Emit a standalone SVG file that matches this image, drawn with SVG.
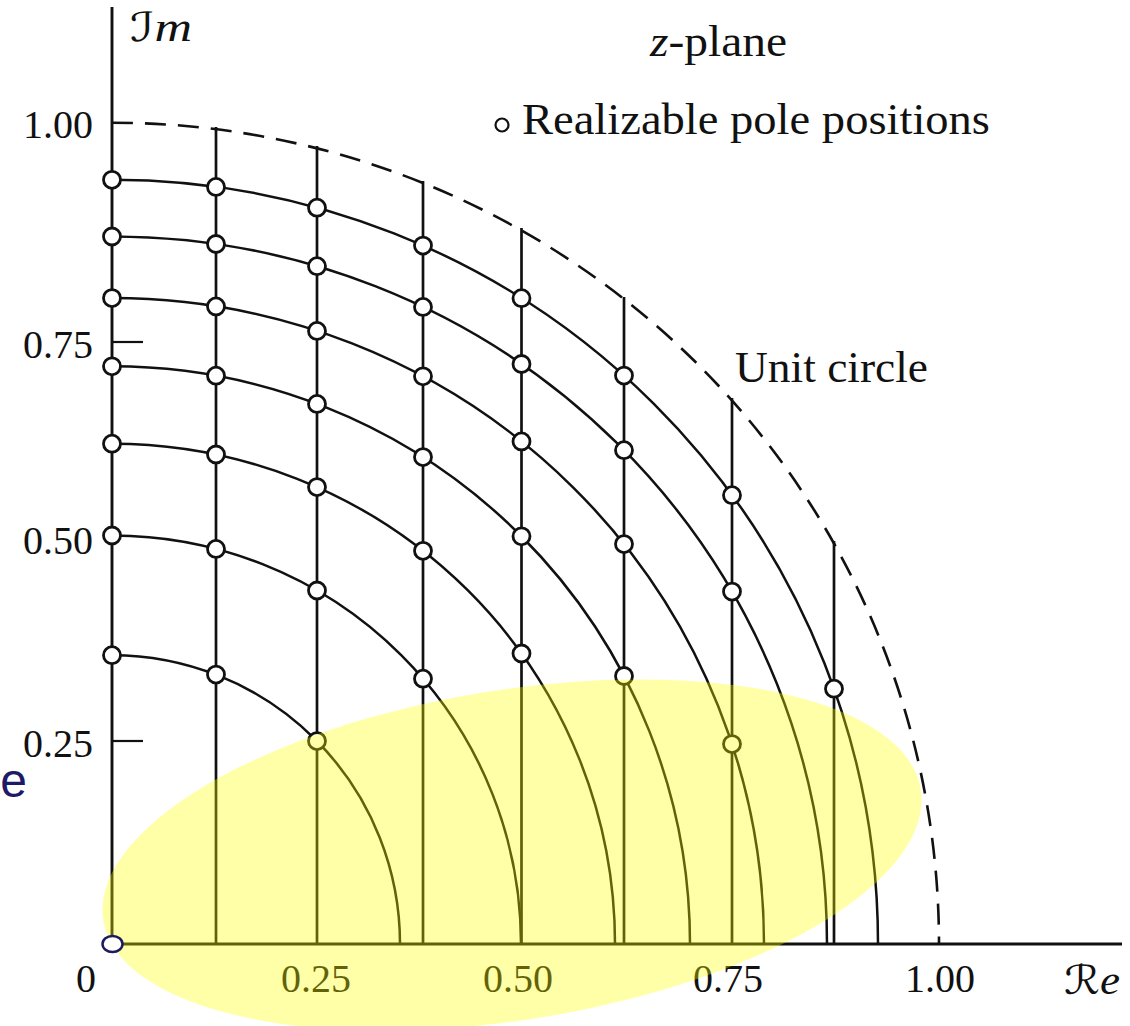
<svg xmlns="http://www.w3.org/2000/svg" width="1130" height="1026" viewBox="0 0 1130 1026">
<style>
  .ax{stroke:#111;stroke-width:2.9;fill:none}
  .vl{stroke:#111;stroke-width:2.7;fill:none}
  .arc{stroke:#111;stroke-width:2.5;fill:none}
  .uc{stroke:#111;stroke-width:2.6;fill:none;stroke-dasharray:21 12}
  .tick{stroke:#111;stroke-width:2.2;fill:none}
  .pole{fill:#fff;stroke:#111;stroke-width:2.8}
  .lbl{font-family:"Liberation Serif","Times New Roman",serif;font-size:40px;fill:#111}
  .cap{font-family:"Liberation Serif","Times New Roman",serif;font-size:45px;fill:#111}
  .scr{font-family:"DejaVu Serif","DejaVu Sans","Liberation Serif",serif;font-style:italic}
</style>
<rect width="1130" height="1026" fill="#fff"/>

<g id="axes">
  <line class="ax" x1="112" y1="7" x2="112" y2="944"/>
  <line class="ax" x1="112" y1="944" x2="1122" y2="944"/>
  <line class="tick" x1="112" y1="342" x2="143" y2="342"/>
  <line class="tick" x1="112" y1="741" x2="143" y2="741"/>
</g>

<g id="unit-circle">
  <path class="uc" d="M112 122.7 A827 821.3 0 0 1 939 944"/>
</g>

<g id="connectors">
  <g id="vertical-lines">
    <line class="vl" x1="216" y1="944" x2="216" y2="127"/>
    <line class="vl" x1="317" y1="944" x2="317" y2="146"/>
    <line class="vl" x1="423" y1="944" x2="423" y2="181"/>
    <line class="vl" x1="521.5" y1="944" x2="521.5" y2="228"/>
    <line class="vl" x1="624" y1="944" x2="624" y2="297"/>
    <line class="vl" x1="732" y1="944" x2="732" y2="398"/>
    <line class="vl" x1="834" y1="944" x2="834" y2="541"/>
  </g>
  <g id="radius-arcs">
    <path class="arc" d="M112 655.15 A288 288.85 0 0 1 400 944"/>
    <path class="arc" d="M112 535.5 A409 408.5 0 0 1 521 944"/>
    <path class="arc" d="M112 443.7 A503 500.3 0 0 1 615 944"/>
    <path class="arc" d="M112 366.3 A578 577.7 0 0 1 690 944"/>
    <path class="arc" d="M112 298.1 A652 645.9 0 0 1 764 944"/>
    <path class="arc" d="M112 236.5 A715 707.5 0 0 1 827 944"/>
    <path class="arc" d="M112 179.8 A766 764.2 0 0 1 878 944"/>
  </g>
</g>

<g id="poles">
  <circle class="pole" cx="112" cy="655.2" r="8.5"/>
  <circle class="pole" cx="112" cy="535.5" r="8.5"/>
  <circle class="pole" cx="112" cy="443.7" r="8.5"/>
  <circle class="pole" cx="112" cy="366.3" r="8.5"/>
  <circle class="pole" cx="112" cy="298.1" r="8.5"/>
  <circle class="pole" cx="112" cy="236.5" r="8.5"/>
  <circle class="pole" cx="112" cy="179.8" r="8.5"/>

  <circle class="pole" cx="216" cy="674.6" r="8.5"/>
  <circle class="pole" cx="216" cy="548.9" r="8.5"/>
  <circle class="pole" cx="216" cy="454.5" r="8.5"/>
  <circle class="pole" cx="216" cy="375.7" r="8.5"/>
  <circle class="pole" cx="216" cy="306.4" r="8.5"/>
  <circle class="pole" cx="216" cy="244.0" r="8.5"/>
  <circle class="pole" cx="216" cy="186.9" r="8.5"/>

  <circle class="pole" cx="317" cy="741.1" r="8.5"/>
  <circle class="pole" cx="317" cy="590.5" r="8.5"/>
  <circle class="pole" cx="317" cy="487.1" r="8.5"/>
  <circle class="pole" cx="317" cy="403.9" r="8.5"/>
  <circle class="pole" cx="317" cy="330.9" r="8.5"/>
  <circle class="pole" cx="317" cy="266.2" r="8.5"/>
  <circle class="pole" cx="317" cy="207.7" r="8.5"/>

  <circle class="pole" cx="423" cy="678.7" r="8.5"/>
  <circle class="pole" cx="423" cy="550.8" r="8.5"/>
  <circle class="pole" cx="423" cy="457.1" r="8.5"/>
  <circle class="pole" cx="423" cy="376.3" r="8.5"/>
  <circle class="pole" cx="423" cy="306.9" r="8.5"/>
  <circle class="pole" cx="423" cy="245.6" r="8.5"/>

  <circle class="pole" cx="521.5" cy="653.5" r="8.5"/>
  <circle class="pole" cx="521.5" cy="536.3" r="8.5"/>
  <circle class="pole" cx="521.5" cy="441.4" r="8.5"/>
  <circle class="pole" cx="521.5" cy="364.0" r="8.5"/>
  <circle class="pole" cx="521.5" cy="298.2" r="8.5"/>

  <circle class="pole" cx="624" cy="676.0" r="8.5"/>
  <circle class="pole" cx="624" cy="544.1" r="8.5"/>
  <circle class="pole" cx="624" cy="450.2" r="8.5"/>
  <circle class="pole" cx="624" cy="375.6" r="8.5"/>

  <circle class="pole" cx="732" cy="744.1" r="8.5"/>
  <circle class="pole" cx="732" cy="591.6" r="8.5"/>
  <circle class="pole" cx="732" cy="495.2" r="8.5"/>

  <circle class="pole" cx="834" cy="688.7" r="8.5"/>
</g>

<g id="labels">
  <text class="lbl" x="93" y="138" text-anchor="end">1.00</text>
  <text class="lbl" x="93" y="358" text-anchor="end">0.75</text>
  <text class="lbl" x="93" y="554" text-anchor="end">0.50</text>
  <text class="lbl" x="93" y="757" text-anchor="end">0.25</text>
  <text class="lbl" x="86" y="992" text-anchor="middle">0</text>
  <text class="lbl" x="316" y="992" text-anchor="middle">0.25</text>
  <text class="lbl" x="518" y="992" text-anchor="middle">0.50</text>
  <text class="lbl" x="728" y="992" text-anchor="middle">0.75</text>
  <text class="lbl" x="940" y="992" text-anchor="middle">1.00</text>
  <text class="lbl" x="1064" y="994" font-size="45" textLength="56" lengthAdjust="spacingAndGlyphs"><tspan class="scr">ℛ</tspan><tspan font-style="italic">e</tspan></text>
  <text class="lbl" x="130" y="41" font-size="45" textLength="62" lengthAdjust="spacingAndGlyphs"><tspan class="scr">ℐ</tspan><tspan font-style="italic">m</tspan></text>
  <text class="cap" x="650" y="56" textLength="137" lengthAdjust="spacingAndGlyphs"><tspan font-style="italic">z</tspan>-plane</text>
  <circle cx="502" cy="125" r="6.5" fill="#fff" stroke="#111" stroke-width="2.2"/>
  <text class="cap" x="522" y="134" textLength="468" lengthAdjust="spacingAndGlyphs">Realizable pole positions</text>
  <text class="cap" x="735" y="382" textLength="193" lengthAdjust="spacingAndGlyphs">Unit circle</text>
</g>

<g id="highlight">
  <ellipse cx="512" cy="855" rx="414" ry="165" transform="rotate(-9.1 512 855)" fill="#ffff00" fill-opacity="0.34"/>
  <ellipse id="origin-pole" cx="112.5" cy="944" rx="10" ry="8" fill="#fff" stroke="#1e1a60" stroke-width="2.5"/>
  <text x="27" y="797" text-anchor="end" font-family="'Liberation Sans',Arial,sans-serif" font-size="48" fill="#1e1a66">e</text>
</g>
</svg>
